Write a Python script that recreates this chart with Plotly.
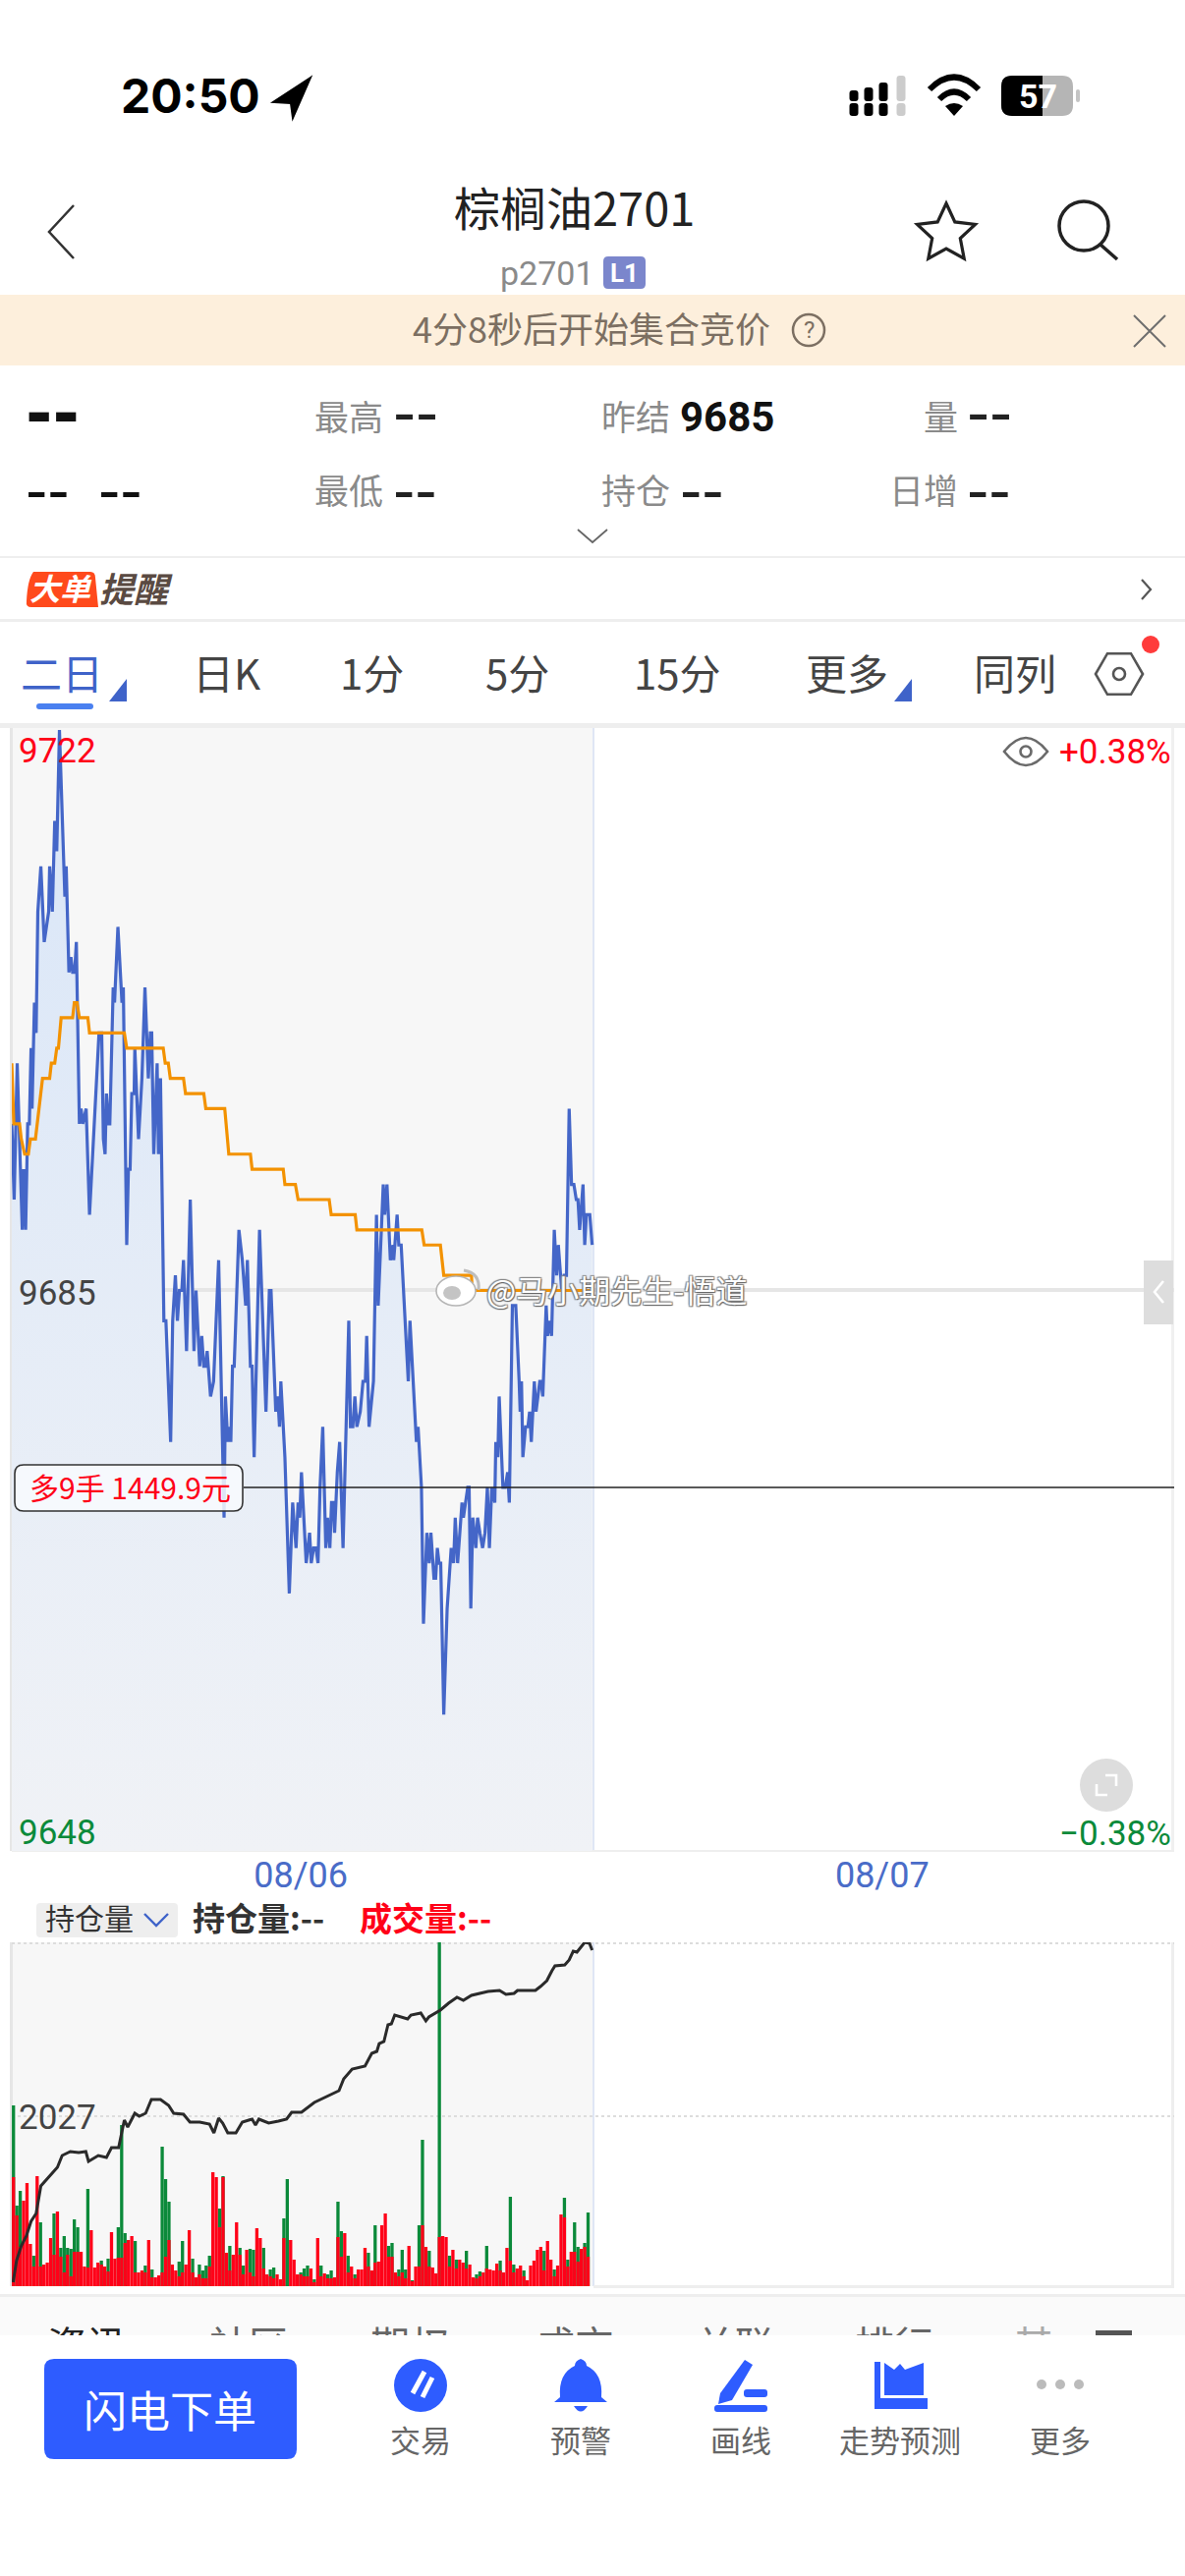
import numpy as np
import plotly.graph_objects as go

# price line, vertices
price_t = [0, 0.7, 1.6, 3.1, 3.5, 4.1, 4.7, 5.2, 5.7, 6, 6.7, 7.2, 7.7, 8.6, 9.6, 10.9, 11.2, 12, 12.7, 13.3,
           14.1, 15.6, 15.7, 16.1, 16.9, 17.5, 18, 18.6, 19.1, 20, 20.5, 21, 22, 23, 25.8, 26.6, 27.1, 27.6, 28, 28.6,
           29, 30, 30.4, 31.4, 32.2, 32.6, 33, 34, 34.5, 35, 35.5, 36.2, 36.4, 37.5, 38.5, 39.4, 40.4, 41, 41.4, 42,
           43, 43.4, 44, 45, 45.6, 47, 47.6, 48.4, 49, 49.6, 50.3, 50.8, 51.7, 52.8, 53.9, 54.5, 55.6, 56.2, 56.8, 57.3,
           57.8, 58.8, 59.7, 61.2, 62.8, 63.2, 63.9, 64.3, 64.8, 65.3, 65.8, 67.2, 68.2, 69.2, 69.7, 70.6, 71.1, 71.7, 73.3, 75.2,
           76.2, 76.7, 78.1, 78.7, 79.2, 79.6, 80.8, 82.1, 83.1, 84.1, 84.7, 85.2, 85.7, 87.1, 88.1, 88.6, 89.3, 90, 90.6, 91.2,
           92, 92.9, 93.4, 94.1, 94.6, 95.1, 95.5, 96.3, 97, 98, 99.7, 100.2, 100.9, 101.5, 102.1, 103.1, 103.9, 104.6, 105, 105.7,
           107, 107.9, 108.4, 109.9, 110.3, 111, 112, 112.8, 113, 114, 114.5, 115.2, 117.3, 117.8, 119.7, 120.2, 121.2, 121.8, 122.8, 123.5,
           124, 124.9, 125.4, 125.9, 126.4, 126.9, 127.8, 128.8, 130, 130.7, 131.2, 131.9, 133.2, 133.6, 134.9, 135.3, 135.8, 136.4, 137.3, 137.8,
           138.5, 139.3, 140, 140.7, 141.3, 142, 142.9, 143.2, 143.8, 144.2, 145.3, 146, 146.7, 147.2, 148.1, 149.1, 150.1, 150.4, 150.8, 151.2,
           152, 152.7, 153.2, 153.7, 154.6, 155.1, 156.2, 156.6, 157.1, 158.1, 158.5, 159, 159.7, 160.5, 161.2, 161.7, 162.7, 163.4, 164.1, 164.9,
           165.6, 166.3, 167, 167.5, 168, 169, 169.5, 170, 171, 171.7]
price = [9696, 9691, 9700, 9689, 9693, 9689, 9696, 9696, 9701, 9697, 9704, 9702, 9710, 9713, 9708, 9710, 9713, 9710, 9716, 9714,
         9722, 9713, 9711, 9713, 9706, 9707, 9706, 9706, 9708, 9696, 9697, 9696, 9697, 9690, 9702, 9702, 9695, 9694, 9698, 9696,
         9696, 9705, 9704, 9709, 9705, 9704, 9705, 9688, 9693, 9693, 9698, 9698, 9701, 9695, 9699, 9705, 9699, 9702, 9702, 9694,
         9700, 9694, 9699, 9683, 9683, 9675, 9683, 9686, 9683, 9685, 9685, 9687, 9681, 9691, 9681, 9685, 9680, 9682, 9680, 9680,
         9681, 9678, 9679, 9687, 9670, 9678, 9675, 9676, 9675, 9680, 9680, 9689, 9687, 9684, 9687, 9680, 9680, 9674, 9689, 9677,
         9685, 9685, 9677, 9678, 9676, 9679, 9674, 9665, 9671, 9668, 9671, 9670, 9673, 9667, 9669, 9667, 9668, 9668, 9667, 9672,
         9676, 9668, 9670, 9668, 9671, 9671, 9669, 9673, 9675, 9668, 9683, 9676, 9676, 9678, 9676, 9677, 9679, 9679, 9682, 9676,
         9679, 9690, 9684, 9692, 9690, 9692, 9687, 9688, 9687, 9690, 9688, 9688, 9679, 9683, 9675, 9676, 9672, 9663, 9669, 9667,
         9669, 9666, 9666, 9668, 9667, 9667, 9657, 9664, 9668, 9667, 9670, 9667, 9671, 9670, 9672, 9672, 9664, 9670, 9668, 9670,
         9669, 9668, 9669, 9672, 9668, 9672, 9671, 9675, 9674, 9678, 9672, 9672, 9673, 9671, 9684, 9684, 9679, 9677, 9679, 9674,
         9676, 9676, 9677, 9675, 9679, 9677, 9679, 9679, 9678, 9684, 9682, 9683, 9682, 9689, 9686, 9688, 9685, 9686, 9686, 9697,
         9692, 9692, 9691, 9691, 9689, 9692, 9688, 9690, 9690, 9688]

# average price line
avg_t = [0, 0.6, 2.3, 2.8, 3.8, 4.9, 5.5, 7, 9.1, 11.2, 11.7, 12.7, 13.3, 13.8, 14.6, 18, 18.5, 19.3, 20, 22.5,
         23, 33.3, 34, 44.8, 45.4, 46.3, 46.9, 50.8, 51.4, 56.8, 57.4, 63, 64.2, 70.6, 71.1, 80.3, 80.8, 83.9, 84.7, 93.9,
         94.5, 101.6, 102.1, 121.3, 122, 126.8, 127.8, 136, 136.2, 171.9]
avg = [9700, 9696, 9696, 9695, 9694, 9694, 9695, 9695, 9699, 9699, 9700, 9700, 9701, 9701, 9703, 9703, 9704, 9704, 9703, 9703,
       9702, 9702, 9701, 9701, 9700, 9700, 9699, 9699, 9698, 9698, 9697, 9697, 9694, 9694, 9693, 9693, 9692, 9692, 9691, 9691,
       9690, 9690, 9689, 9689, 9688, 9688, 9686, 9686, 9685, 9685]

# open interest line
oi_t = [0.4, 1.4, 2.8, 4.3, 5.7, 7.2, 8.6, 11, 13.5, 14.9, 17.3, 19.8, 21.9, 22.7, 25.6, 28, 29.5, 31.6, 33.3, 34.3,
        36.4, 37.7, 39.6, 41.3, 44, 46.4, 47.9, 50.8, 52.7, 55.6, 58.5, 59.8, 61.2, 62.4, 63.9, 66.3, 68.2, 71.1, 72.1, 73.1,
        76, 78.9, 81.3, 82.8, 85.7, 89.5, 93.4, 96.8, 98.2, 100.7, 104.5, 106.5, 108, 108.7, 110.1, 111.3, 112.3, 113.3, 117.1, 118.1,
        121, 122.5, 123.4, 126.8, 129.2, 131.7, 133.6, 136, 140.9, 144.3, 146.2, 148.6, 149.6, 154.9, 156.4, 158.3, 159.8, 160.7, 163.6, 164.9,
        166.1, 167.2, 169.5, 170.9, 171.7]
oi = [1856, 1878, 1893, 1903, 1918, 1926, 1954, 1963, 1973, 1985, 1989, 1988, 1989, 1979, 1985, 1983, 1993, 1993, 2021, 2014,
      2028, 2025, 2028, 2042, 2042, 2036, 2028, 2027, 2019, 2019, 2017, 2008, 2023, 2018, 2008, 2008, 2019, 2022, 2016, 2022,
      2018, 2020, 2022, 2029, 2029, 2039, 2045, 2051, 2063, 2073, 2076, 2089, 2091, 2099, 2101, 2118, 2119, 2128, 2124, 2128,
      2130, 2122, 2126, 2133, 2140, 2146, 2143, 2148, 2152, 2153, 2149, 2150, 2153, 2153, 2157, 2163, 2173, 2178, 2179, 2184,
      2193, 2192, 2202, 2201, 2194]

# volume per bar, r = up, g = down
vol = [184, 82, 97, 87, 105, 43, 31, 112, 65, 22, 24, 49, 74, 76, 39, 51, 39, 38, 68, 60,
       35, 20, 99, 57, 19, 24, 26, 20, 28, 55, 28, 60, 164, 54, 47, 51, 46, 14, 16, 21,
       47, 17, 9, 11, 142, 109, 86, 22, 16, 25, 46, 22, 57, 28, 9, 22, 16, 21, 31, 116,
       111, 79, 112, 34, 41, 32, 65, 39, 21, 37, 38, 37, 59, 49, 39, 12, 17, 19, 12, 7,
       69, 109, 47, 27, 12, 14, 18, 21, 18, 7, 49, 21, 13, 12, 16, 9, 86, 56, 54, 31,
       20, 12, 17, 17, 39, 34, 16, 62, 25, 62, 74, 41, 44, 14, 17, 37, 17, 41, 6, 20,
       62, 149, 40, 36, 19, 13, 351, 51, 50, 31, 37, 27, 27, 24, 36, 22, 9, 12, 15,
       14, 41, 17, 16, 23, 26, 14, 39, 91, 22, 18, 21, 16, 6, 21, 26, 37, 40, 36, 46,
       27, 17, 21, 73, 90, 27, 35, 65, 40, 38, 44, 75]
vol_side = list("gggrrrgrgrrrgrgggggg"
                "rrgrrrgrgrrgggrrgrrg"
                "rgrrgggrrggrrgrggggr"
                "rggrgrrggrggrrgrggrr"
                "ggrrrgggrgrgrggrggrg"
                "rgrrrgrgrrrggrgggrgr"
                "ggrgrrgrrgrgrrgrrgg"
                "rgrrrgrrggrrgrrrrrgr"
                "rgrrggrggrgg")
# red part drawn in front of the green bars
vol_under = [111, 72, 40, 0, 0, 0, 20, 0, 20, 0, 0, 0, 32, 0, 30, 14, 32, 10, 35, 35,
             0, 0, 19, 0, 0, 0, 22, 0, 15, 0, 0, 29, 29, 44, 0, 0, 14, 0, 0, 14,
             0, 9, 0, 0, 14, 30, 47, 0, 0, 10, 14, 0, 0, 14, 0, 12, 8, 8, 20, 0,
             0, 60, 111, 0, 16, 0, 0, 32, 12, 0, 14, 10, 0, 0, 18, 0, 10, 8, 0, 0,
             49, 0, 0, 0, 0, 12, 10, 10, 0, 4, 0, 10, 0, 8, 8, 0, 50, 30, 0, 14,
             0, 8, 0, 0, 0, 20, 0, 24, 0, 0, 0, 30, 30, 0, 10, 14, 8, 0, 5, 0,
             20, 62, 0, 20, 0, 0, 50, 0, 0, 20, 0, 18, 0, 0, 18, 0, 0, 8, 10,
             0, 18, 0, 0, 0, 16, 0, 0, 26, 14, 0, 0, 10, 0, 0, 0, 0, 0, 16, 0,
             0, 10, 0, 0, 70, 20, 0, 35, 25, 0, 40, 30]

y_labels = ["9722", "9685", "9648"]
pct_labels = ["+0.38%", "−0.38%"]
date_ticks = [85.5, 257.5]
date_labels = ["08/06", "08/07"]
position_price = 9672
position_text = "多9手 1449.9元"
oi_mid = "2027"
tabs = ["二日", "日K", "1分", "5分", "15分", "更多", "同列"]
tab_x = [65, 232, 380, 528, 691, 864, 1035]
info_tabs = ["资讯", "社区", "期权", "成交", "关联", "排行", "其"]
info_x = [88, 253, 417, 585, 748, 910, 1052]
bottom_items = ["交易", "预警", "画线", "走势预测", "更多"]
bottom_x = [428, 591, 754, 916, 1079]

FONT = "Noto Sans CJK SC"
NUM = "Roboto"
BLUE = "#4466c8"
RED = "#ff0018"
GREEN = "#0b8a3a"
GRAY = "#8a8a8a"
ICON = "#2e5cff"

bar_x = np.arange(len(vol)) + 0.5
green_vol = [v if s == "g" else 0 for v, s in zip(vol, vol_side)]
red_vol = [v if s == "r" else u for v, s, u in zip(vol, vol_side, vol_under)]

fig = go.Figure()

# page layer, axes in screen pixels, used for the phone chrome
fig.add_trace(go.Scatter(x=info_x, y=[2392] * len(info_x), mode="text", text=info_tabs,
                         textfont=dict(family=FONT, size=40,
                                       color=["#222222"] + ["#666666"] * 5 + ["#aaaaaa"]),
                         xaxis="x", yaxis="y", hoverinfo="skip", showlegend=False))

# price area
fig.add_trace(go.Scatter(x=[0, price_t[-1]], y=[9648, 9648], mode="lines", line=dict(width=0),
                         xaxis="x2", yaxis="y2", hoverinfo="skip", showlegend=False))
fig.add_trace(go.Scatter(x=price_t, y=price, mode="lines", line=dict(color=BLUE, width=3.2),
                         fill="tonexty",
                         fillgradient=dict(type="vertical", start=9722, stop=9648,
                                           colorscale=[[0, "#d9e6f8"], [1, "#f0f2f6"]]),
                         xaxis="x2", yaxis="y2", showlegend=False))
fig.add_trace(go.Scatter(x=avg_t, y=avg, mode="lines", line=dict(color="#f39200", width=3.2),
                         xaxis="x2", yaxis="y2", showlegend=False))

# volume + open interest
fig.add_trace(go.Bar(x=bar_x, y=green_vol, marker=dict(color=GREEN, line=dict(width=0)),
                     xaxis="x3", yaxis="y3", showlegend=False))
fig.add_trace(go.Bar(x=bar_x, y=red_vol, marker=dict(color=RED, line=dict(width=0)),
                     xaxis="x3", yaxis="y3", showlegend=False))
fig.add_trace(go.Scatter(x=oi_t, y=oi, mode="lines", line=dict(color="#2a2a2a", width=3),
                         xaxis="x3", yaxis="y4", showlegend=False))

fig.update_layout(
    width=1206, height=2622, margin=dict(l=0, r=0, t=0, b=0),
    paper_bgcolor="white", plot_bgcolor="rgba(0,0,0,0)", showlegend=False, barmode="overlay", bargap=0.04,
    xaxis=dict(domain=[0, 1], range=[0, 1206], visible=False, fixedrange=True),
    yaxis=dict(domain=[0, 1], range=[2622, 0], visible=False, fixedrange=True),
    xaxis2=dict(domain=[12 / 1206, 1195 / 1206], range=[0, 343.9], anchor="y2", showgrid=False, zeroline=False,
                showline=False, ticks="", tickvals=date_ticks, ticktext=date_labels,
                tickfont=dict(family=NUM, size=36, color="#4a6cc8")),
    yaxis2=dict(domain=[1 - 1884 / 2622, 1 - 743 / 2622], range=[9648, 9722], anchor="x2", visible=False),
    xaxis3=dict(domain=[12 / 1206, 1195 / 1206], range=[0, 343.9], anchor="y3", visible=False),
    yaxis3=dict(domain=[1 - 2327 / 2622, 1 - 1977 / 2622], range=[0, 350], anchor="x3", visible=False),
    yaxis4=dict(domain=[1 - 2327 / 2622, 1 - 1977 / 2622], range=[1852, 2202], anchor="x3", overlaying="y3",
                visible=False),
)


def text(x, y, s, size, color, anchor="center", bold=False, family=FONT, **kw):
    if family == FONT:
        y -= 3
    fig.add_annotation(x=x, y=y, xref="x", yref="y", text=s, showarrow=False, xanchor=anchor, yanchor="middle",
                       font=dict(family=family, size=size, color=color, weight=700 if bold else 400, **kw))


def rect(x0, y0, x1, y1, fill, layer="below", line=None, lw=0, radius=0):
    if radius:
        r = radius
        p = (f"M {x0 + r} {y0} L {x1 - r} {y0} Q {x1} {y0} {x1} {y0 + r} L {x1} {y1 - r} Q {x1} {y1} {x1 - r} {y1} "
             f"L {x0 + r} {y1} Q {x0} {y1} {x0} {y1 - r} L {x0} {y0 + r} Q {x0} {y0} {x0 + r} {y0} Z")
        fig.add_shape(type="path", path=p, xref="x", yref="y", fillcolor=fill, layer=layer,
                      line=dict(color=line or fill, width=lw))
    else:
        fig.add_shape(type="rect", x0=x0, y0=y0, x1=x1, y1=y1, xref="x", yref="y", fillcolor=fill, layer=layer,
                      line=dict(color=line or fill, width=lw))


def path(p, color=None, width=0, fill=None, layer="above"):
    fig.add_shape(type="path", path=p, xref="x", yref="y", layer=layer,
                  fillcolor=fill or "rgba(0,0,0,0)", line=dict(color=color or "rgba(0,0,0,0)", width=width))


def circle(cx, cy, r, fill=None, color=None, width=0, layer="above", ry=None):
    fig.add_shape(type="circle", x0=cx - r, x1=cx + r, y0=cy - (ry or r), y1=cy + (ry or r), xref="x", yref="y",
                  layer=layer, fillcolor=fill or "rgba(0,0,0,0)",
                  line=dict(color=color or "rgba(0,0,0,0)", width=width))


def dashes(x, y, size=64, color="#222222", bold=False):
    text(x, y, "--", size, color, anchor="left", family="DejaVu Sans", bold=bold)


# status bar
text(194, 97, "20:50", 48, "#000000", bold=True, family="Inter")
path("M 316 79 L 278 104 L 296 105 L 298 120 Z", fill="#000000", color="#000000", width=2)
for cx, tops, col in [(869, (103, 92), "#000"), (884, (103, 89), "#000"), (899, (103, 84), "#000"),
                      (917, (103, 77), "#cccccc")]:
    rect(cx - 4.5, 105, cx + 4.5, 118, col, layer="above", radius=3)
    rect(cx - 4.5, tops[1], cx + 4.5, tops[0], col, layer="above", radius=3)
path("M 946 91 Q 971 66 996 91", color="#000", width=6)
path("M 956 101 Q 971 86 986 101", color="#000", width=6)
path("M 962 108 L 971 118 L 980 108 Q 971 102 962 108 Z", fill="#000")
rect(1019, 77, 1092, 118, "#b5b5b5", layer="above", radius=11)
path("M 1030 77 L 1061 77 L 1061 118 L 1030 118 Q 1019 118 1019 107 L 1019 88 Q 1019 77 1030 77 Z", fill="#000")
rect(1095, 91, 1099, 104, "#c4c4c4", layer="above", radius=2)
text(1056, 98, "57", 34, "#ffffff", bold=True, family=NUM)

# title row
path("M 75 209 L 50 236 L 75 263", color="#333", width=2.5)
text(584, 212, "棕榈油2701", 47, "#222222")
text(557, 278, "p2701", 34, GRAY, family=NUM)
rect(614, 261, 657, 294, "#7b86cc", layer="above", radius=5)
text(635, 278, "L1", 26, "#ffffff", bold=True, family=NUM)
star = []
for k in range(10):
    ang = -np.pi / 2 + k * np.pi / 5
    rad = 31 if k % 2 == 0 else 15
    star.append(f"{963 + rad * np.cos(ang):.1f} {238 + rad * np.sin(ang):.1f}")
path("M " + " L ".join(star) + " Z", color="#222", width=3.2)
circle(1103, 230, 25, color="#222", width=3.5)
path("M 1120 249 L 1137 264", color="#222", width=3.5)

# countdown banner
rect(0, 300, 1206, 372, "#fdefdc")
text(602, 336, "4分8秒后开始集合竞价", 36, "#7c6f62")
circle(823, 336, 16, color="#7c6f62", width=2.5)
text(823, 336, "?", 24, "#7c6f62", family=NUM)
path("M 1154 321 L 1186 353 M 1186 321 L 1154 353", color="#6e6e6e", width=2)

# quote block
dashes(24, 420, 66, "#111111", bold=True)
text(318, 425, "最高", 35, GRAY, anchor="left")
dashes(398, 420)
text(610, 425, "昨结", 35, GRAY, anchor="left")
text(690, 424, "9685", 42, "#111111", anchor="left", bold=True, family=NUM)
text(938, 425, "量", 35, GRAY, anchor="left")
dashes(982, 420)
dashes(24, 499, 62, "#111111")
dashes(98, 499, 62, "#111111")
text(318, 500, "最低", 35, GRAY, anchor="left")
dashes(398, 499, 62)
text(610, 500, "持仓", 35, GRAY, anchor="left")
dashes(690, 499, 62)
text(903, 500, "日增", 35, GRAY, anchor="left")
dashes(982, 499, 62)
path("M 588 539 L 603 552 L 618 539", color="#666", width=1.8)
rect(0, 566, 1206, 568, "#eeeeee")

# big order strip
path("M 34 582 L 92 582 Q 97 582 97 588 L 100 618 L 32 618 Q 26 618 27 612 Q 28 590 34 582 Z", fill="#ff4a1c")
text(62, 600, "<i>大单</i>", 31, "#ffffff", bold=True)
text(138, 600, "<i>提醒</i>", 35, "#5a4a42", bold=True)
path("M 1162 590 L 1171 600 L 1162 610", color="#555", width=2.2)
rect(0, 630, 1206, 633, "#eeeeee")

# period tabs
for i in range(len(tabs)):
    text(tab_x[i] - 2, 686, tabs[i], 42, "#3f63c9" if i == 0 else "#444444")
path("M 111 714 L 129 714 L 129 691 Z", fill="#3f63c9")
path("M 910 714 L 928 714 L 928 691 Z", fill="#3f63c9")
rect(37, 716, 95, 722, "#4a80f0", layer="above", radius=3)
hexa = " L ".join(f"{1139 + 24 * np.cos(k * np.pi / 3):.1f} {686 + 24 * np.sin(k * np.pi / 3):.1f}" for k in range(6))
path("M " + hexa + " Z", color="#555", width=2.6)
circle(1139, 686, 6, color="#555", width=2.6)
circle(1171, 656, 9, fill="#ff3b3b")
rect(0, 736, 1206, 741, "#eeeeee")

# main chart frame
rect(12, 741, 604, 1884, "#f7f7f7")
rect(603, 741, 605, 1884, "#dfe6f5")
rect(10, 741, 13, 1884, "#e6e6e6")
rect(1192, 741, 1195, 1884, "#f0f0f0")
rect(12, 1311, 1195, 1315, "#e6e6e6")
rect(12, 1883, 1195, 1885, "#eeeeee")

for yy, lab, col in zip([764, 1316, 1865], y_labels, [RED, "#444444", GREEN]):
    text(17, yy, lab, 35, col, anchor="left", family=NUM)
text(1194, 765, pct_labels[0], 35, RED, anchor="right", family=NUM)
text(1194, 1866, pct_labels[1], 35, GREEN, anchor="right", family=NUM)

# eye icon
path("M 1022 765 Q 1044 737 1066 765 Q 1044 793 1022 765 Z", color="#6a6a6a", width=2.6)
circle(1044, 765, 5.5, color="#6a6a6a", width=2.6)

# side pull tab and expand icon
rect(1164, 1283, 1194, 1348, "#dddddd", layer="above")
path("M 1184 1304 L 1175 1315 L 1184 1326", color="#ffffff", width=2.6)
circle(1126, 1817, 27, fill="#dddddd")
path("M 1116 1816 L 1116 1827 L 1127 1827 M 1125 1807 L 1136 1807 L 1136 1818", color="#ffffff", width=2.6)

# open position line + label
fig.add_shape(type="line", x0=248, x1=1195, y0=position_price, y1=position_price, xref="x", yref="y2",
              layer="above", line=dict(color="#222222", width=1.6))
rect(15, 1491, 247, 1538, "rgba(248,250,254,0.86)", layer="above", line="#333333", lw=1.6, radius=9)
text(28, 1516, position_text, 30, RED, anchor="left")

# watermark
circle(464, 1314, 20, fill="#ffffff", color="#b5b5b5", width=1.6, ry=15)
circle(460, 1316, 9, fill="#c4c4c4", ry=7)
path("M 472 1293 Q 489 1296 487 1313", color="#bdbdbd", width=3)
text(493, 1315, "@马小期先生-悟道", 32, "#ffffff", anchor="left",
     shadow="1px 1px 1px #666666, -1px -1px 1px #888888, 1px -1px 1px #888888, -1px 1px 1px #888888")

# sub chart header
rect(37, 1937, 181, 1972, "#eeeeee", radius=4)
text(44, 1954, "持仓量", 30, "#333333", anchor="left")
path("M 147 1948 L 159 1960 L 171 1948", color="#3f63c9", width=2.4)
text(194, 1954, "持仓量:--", 33, "#333333", anchor="left", bold=True)
text(364, 1954, "成交量:--", 33, RED, anchor="left", bold=True)

# sub chart frame
rect(12, 1977, 604, 2327, "#f7f7f7")
rect(603, 1977, 605, 2327, "#dfe6f5")
rect(10, 1977, 13, 2327, "#e6e6e6")
rect(1192, 1977, 1195, 2327, "#eeeeee")
rect(604, 2326, 1195, 2329, "#eeeeee")
fig.add_shape(type="line", x0=12, x1=1195, y0=2154, y1=2154, xref="x", yref="y", layer="below",
              line=dict(color="#dddddd", width=2, dash="dot"))
fig.add_shape(type="line", x0=12, x1=1195, y0=1978, y1=1978, xref="x", yref="y", layer="below",
              line=dict(color="#dddddd", width=2, dash="dot"))
text(17, 2155, oi_mid, 35, "#444444", anchor="left", family=NUM)

# info tabs, cut by the bottom bar
rect(0, 2335, 1206, 2338, "#eeeeee")
rect(0, 2338, 1206, 2378, "#fafafa")
rect(1115, 2372, 1152, 2378, "#555555")
rect(0, 2377, 1206, 2622, "#ffffff", layer="above")

# bottom bar
rect(45, 2401, 302, 2503, ICON, layer="above", radius=10)
text(173, 2455, "闪电下单", 44, "#ffffff")
for x, lab in zip(bottom_x, bottom_items):
    text(x, 2485, lab, 31, "#666666")
circle(428, 2428, 27, fill=ICON)
path("M 432 2414 L 420 2436 M 440 2420 L 430 2440", color="#ffffff", width=5)
path("M 591 2401 Q 597 2403 597 2408 Q 614 2416 612 2440 L 618 2445 L 564 2445 L 570 2440 Q 568 2416 585 2408 "
     "Q 585 2403 591 2401 Z", fill=ICON)
path("M 584 2449 L 598 2449 Q 591 2460 584 2449 Z", fill=ICON)
path("M 758 2402 L 766 2407 L 745 2443 L 731 2447 L 733 2436 Z", fill=ICON)
rect(757, 2432, 781, 2440, ICON, layer="above", radius=3)
rect(727, 2448, 781, 2455, ICON, layer="above", radius=3)
path("M 890 2404 L 896 2404 L 896 2441 L 944 2441 L 944 2452 L 890 2452 Z", fill=ICON)
path("M 900 2405 L 910 2412 L 916 2406 L 921 2412 L 940 2405 L 940 2438 L 900 2438 Z", fill=ICON)
circle(1060, 2427, 5, fill="#bbbbbb")
circle(1079, 2427, 5, fill="#bbbbbb")
circle(1098, 2427, 5, fill="#bbbbbb")

fig.write_html("out.html", config={"displayModeBar": False},
               post_script="document.body.style.margin='0';")
